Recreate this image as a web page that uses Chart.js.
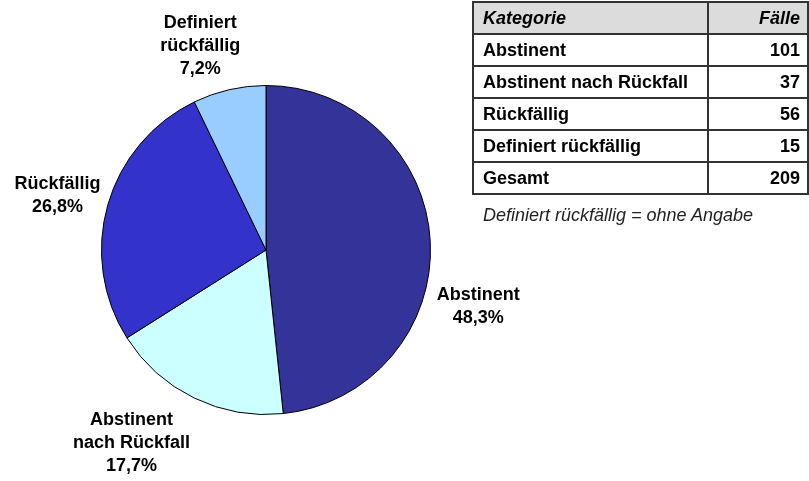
<!DOCTYPE html>
<html>
<head>
<meta charset="utf-8">
<script src="https://cdn.jsdelivr.net/npm/chart.js@4/dist/chart.umd.min.js"></script>
<style>
  body { margin: 0; background: #fff; font-family: "Liberation Sans", Arial, sans-serif; }
  #wrap { position: relative; width: 809px; height: 481px; overflow: hidden; }
  #pie { position: absolute; left: 0; top: 0; }
  #cases { position: absolute; left: 472px; top: 1px; width: 337px; border-collapse: collapse; font-size: 18px; font-weight: bold; color: #000; }
  #cases td, #cases th { border: 2px solid #333; height: 30px; padding: 0 7px 0 9px; }
  #cases th { background: #dcdcdc; font-style: italic; text-align: left; }
  #cases .num { text-align: right; width: 82px; }
  #note { position: absolute; left: 483px; top: 205px; font-size: 18px; line-height: 20px; font-style: italic; color: #222; }
</style>
</head>
<body>
<div id="wrap">
  <canvas id="pie" width="809" height="481"></canvas>
  <table id="cases"></table>
  <div id="note">Definiert rückfällig = ohne Angabe</div>
</div>
<script>
const categories = ["Abstinent", "Abstinent nach Rückfall", "Rückfällig", "Definiert rückfällig"];
const cases = [101, 37, 56, 15];
const sliceColors = ["#333399", "#CCFFFF", "#3333CC", "#99CCFF"];
// label text on the pie, split on lines like the original
const labelLines = [["Abstinent"], ["Abstinent", "nach Rückfall"], ["Rückfällig"], ["Definiert", "rückfällig"]];
// where each label block sits, in units of the pie radius from its centre
const labelSpots = [[1.29, 0.345], [-0.818, 1.173], [-1.267, -0.33], [-0.40, -1.242]];

const total = cases.reduce((a, b) => a + b, 0);
const pct = v => (v / total * 100).toFixed(1).replace(".", ",") + "%";

// table on the right
const table = document.getElementById("cases");
let rows = '<tr><th>Kategorie</th><th class="num">Fälle</th></tr>';
categories.forEach((c, i) => {
    rows += `<tr><td>${c}</td><td class="num">${cases[i]}</td></tr>`;
});
rows += `<tr><td>Gesamt</td><td class="num">${total}</td></tr>`;
table.innerHTML = rows;

const sliceLabels = {
    id: "sliceLabels",
    afterDraw(chart) {
        const ctx = chart.ctx;
        const arcs = chart.getDatasetMeta(0).data;
        ctx.save();
        ctx.font = "bold 18px 'Liberation Sans', Arial, sans-serif";
        ctx.fillStyle = "#000";
        ctx.textAlign = "center";
        ctx.textBaseline = "middle";
        arcs.forEach((arc, i) => {
            const p = arc.getProps(["x", "y", "outerRadius"], true);
            const lines = labelLines[i].concat([pct(cases[i])]);
            const cx = p.x + labelSpots[i][0] * p.outerRadius;
            const cy = p.y + labelSpots[i][1] * p.outerRadius;
            const lh = 23;
            lines.forEach((t, k) => {
                ctx.fillText(t, cx, cy + (k - (lines.length - 1) / 2) * lh);
            });
        });
        ctx.restore();
    }
};

new Chart(document.getElementById("pie"), {
    type: "pie",
    data: {
        labels: categories,
        datasets: [{ data: cases, backgroundColor: sliceColors, borderColor: "#000", borderWidth: 1 }]
    },
    options: {
        responsive: false,
        animation: false,
        layout: { padding: { left: 101, right: 378, top: 85, bottom: 66 } },
        plugins: { legend: { display: false }, tooltip: { enabled: false } }
    },
    plugins: [sliceLabels]
});
</script>
</body>
</html>
